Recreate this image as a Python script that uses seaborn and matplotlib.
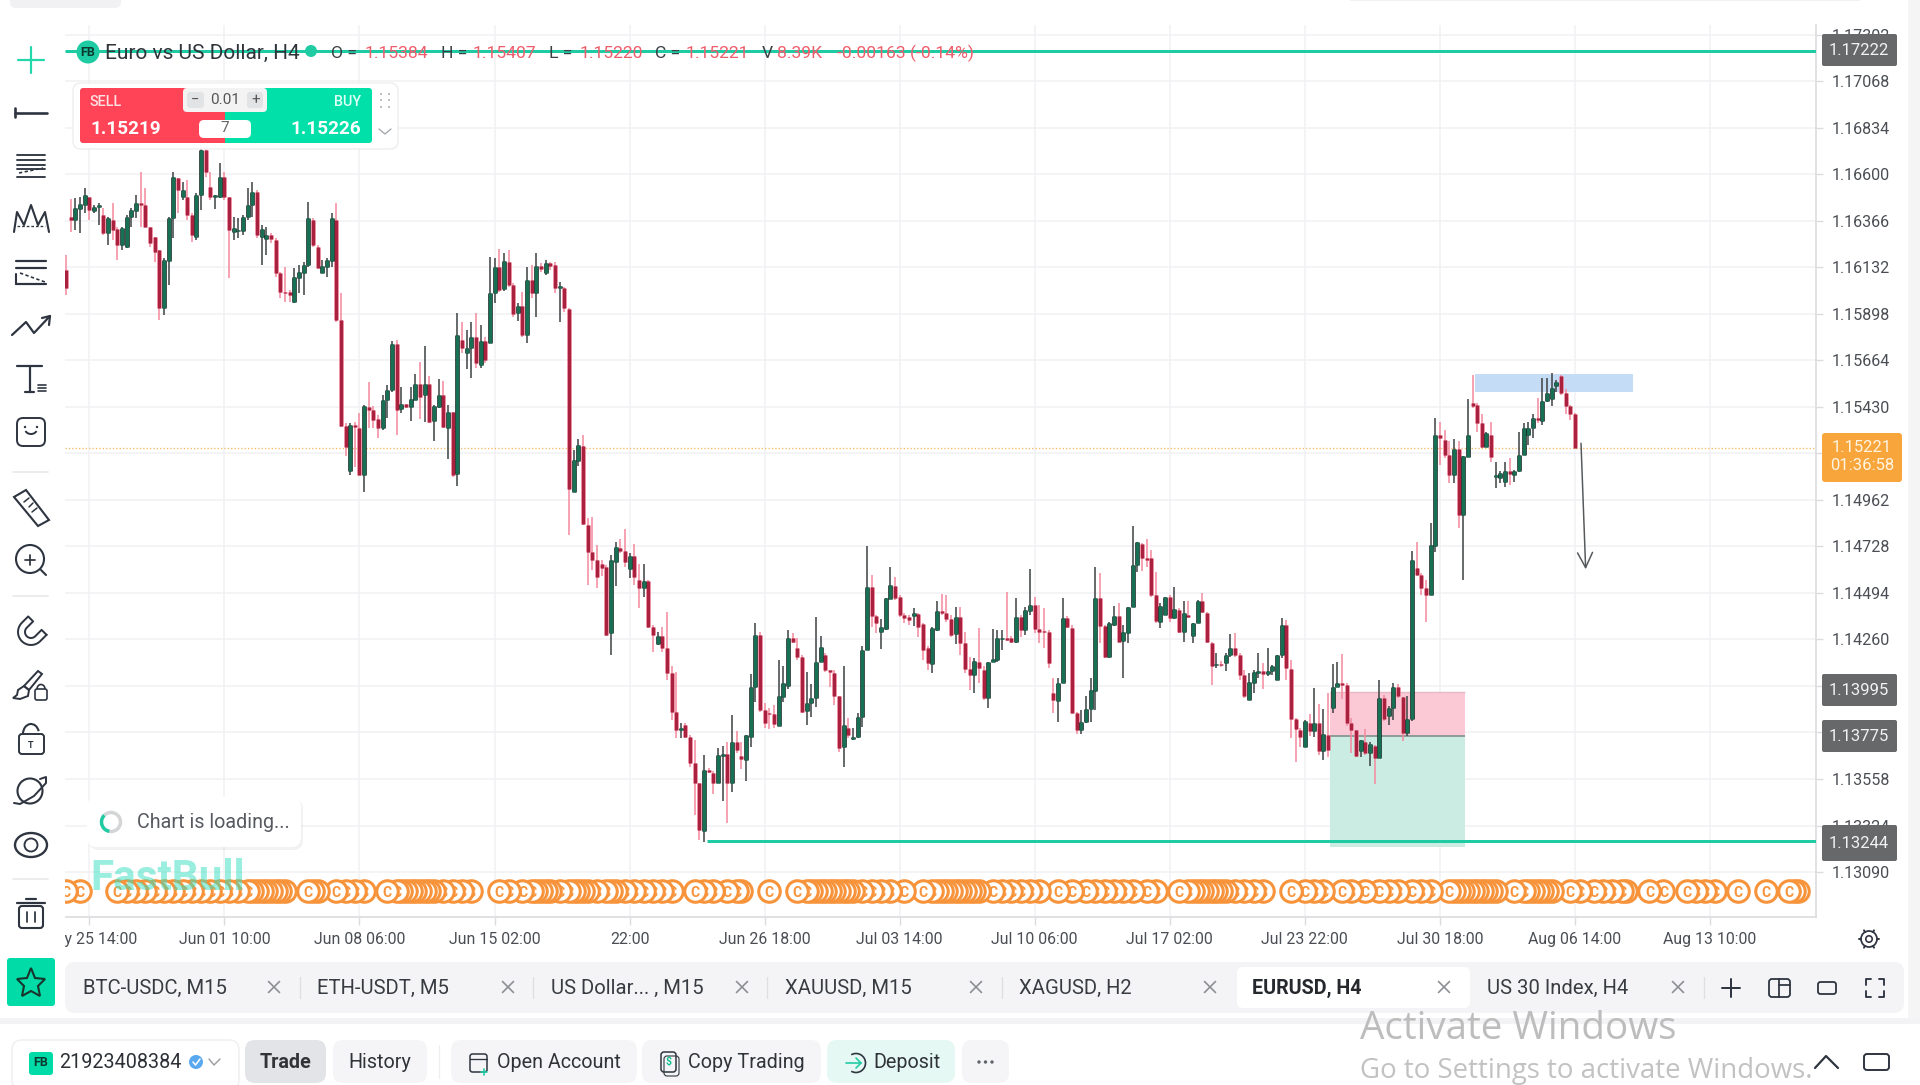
import numpy as np
import pandas as pd
import seaborn as sns
import matplotlib
matplotlib.use("Agg")
import matplotlib.pyplot as plt
from matplotlib.patches import FancyBboxPatch, Circle, Rectangle, Arc, Polygon

# prices, in points (1.15221 -> 115221)
opens = [
    116119,116387,116370,116424,116446,116488,116417,116437,116395,116303,
    116370,116323,116244,116233,116384,116417,116454,116446,116333,116286,
    116219,115926,116166,116379,116580,116488,116488,116395,116286,116496,
    116722,116538,116488,116488,116588,116488,116312,116315,116317,116384,
    116446,116513,116286,116273,116295,116270,116102,116010,116010,115959,
    116077,116102,116144,116370,116236,116102,116135,116166,116370,115867,
    115334,115105,115339,115323,115088,115427,115415,115368,115323,115465,
    115515,115747,115420,115445,115428,115466,115544,115490,115544,115360,
    115427,115490,115326,115406,115091,115767,115700,115725,115780,115641,
    115763,115753,116001,116135,116021,116160,116043,115900,115939,115792,
    116068,116005,116139,116105,116152,116144,116030,116026,115921,115000,
    115160,115235,114836,114702,114660,114640,114627,114291,114652,114719,
    114707,114613,114680,114560,114518,114556,114321,114238,114275,114216,
    114090,113897,113805,113830,113771,113638,113537,113294,113604,113587,
    113537,113674,113683,113540,113746,113674,113654,113768,114020,114283,
    113906,113892,113885,113827,113970,114028,114266,114216,114174,113902,
    113939,113964,114145,114182,114107,114093,113973,113717,113813,113759,
    113771,113872,114208,114523,114378,114295,114312,114462,114530,114476,
    114384,114375,114378,114389,114338,114216,114137,114308,114405,114392,
    114362,114288,114375,114241,114110,114082,114149,114107,113964,114149,
    114157,114262,114266,114266,114249,114375,114308,114405,114434,114311,
    114305,114295,113990,113952,114043,114367,114316,113892,113805,113847,
    113909,114003,114467,114328,114171,114333,114378,114254,114291,114425,
    114635,114741,114669,114669,114484,114350,114384,114476,114367,114409,
    114295,114384,114278,114345,114451,114395,114244,114131,114137,114140,
    114182,114216,114182,114082,113956,114040,114093,114099,114085,114099,
    114057,114183,114333,114110,113859,113805,113721,113839,113797,113839,
    113701,113780,113914,114023,114043,114032,113842,113805,113701,113746,
    113691,113725,113664,113964,113876,113914,114020,113970,113788,113859,
    114618,114585,114518,114484,114730,115289,115264,115188,115088,115217,
    114887,115180,115448,115440,115348,115230,115289,115079,115071,115054,
    115105,115088,115105,115188,115289,115323,115373,115361,115462,115469,
    115536,115583,115499,115435,115395,
]
highs = [
    116194,116474,116479,116488,116533,116488,116446,116454,116429,116387,
    116454,116337,116337,116395,116429,116496,116613,116529,116337,116286,
    116219,116177,116387,116613,116580,116563,116572,116404,116504,116731,
    116731,116613,116496,116655,116613,116488,116387,116379,116395,116529,
    116563,116521,116345,116337,116303,116278,116110,116135,116018,116127,
    116144,116161,116462,116379,116244,116169,116177,116404,116454,116001,
    115348,115348,115356,115398,115440,115554,115435,115390,115490,115541,
    115759,115767,115532,115445,115532,115594,115658,115737,115583,115440,
    115569,115561,115440,115406,115904,115859,115817,115859,115901,115842,
    115783,116186,116177,116223,116202,116219,116051,115951,116010,116135,
    116144,116202,116152,116169,116161,116157,116060,116035,115926,115214,
    115267,115289,114870,114878,114736,114660,114635,114685,114752,114766,
    114814,114694,114740,114640,114640,114560,114333,114295,114325,114400,
    114127,114098,113838,113842,113780,113755,113537,113679,113612,113596,
    113713,113725,113742,113881,113797,113742,113780,114085,114345,114300,
    113939,113914,113931,114157,114124,114308,114291,114266,114182,114098,
    114036,114375,114278,114191,114107,114107,113973,114124,113864,113813,
    113889,114225,114731,114585,114384,114362,114467,114627,114576,114484,
    114392,114384,114417,114392,114341,114225,114325,114451,114489,114484,
    114384,114425,114425,114300,114174,114166,114316,114124,114149,114311,
    114308,114308,114498,114275,114467,114384,114425,114613,114476,114434,
    114417,114308,114065,114065,114467,114378,114333,113897,113906,113973,
    114065,114627,114593,114333,114350,114429,114442,114333,114425,114831,
    114752,114744,114766,114711,114601,114442,114476,114484,114526,114417,
    114451,114451,114341,114459,114496,114400,114249,114191,114150,114191,
    114286,114292,114191,114107,114090,114107,114191,114141,114216,114132,
    114183,114367,114358,114157,113864,113814,113855,113886,114018,113936,
    113909,113993,114137,114149,114188,114040,113864,113805,113755,113809,
    113742,113730,114057,113981,113926,114043,114037,113970,113976,114707,
    114752,114593,114560,114848,115373,115356,115314,115256,115267,115256,
    115183,115469,115591,115449,115395,115306,115356,115155,115105,115155,
    115172,115113,115306,115348,115356,115395,115474,115574,115574,115599,
    115566,115591,115519,115440,115401,
]
lows = [
    115993,116312,116320,116303,116404,116370,116404,116345,116295,116244,
    116270,116169,116219,116228,116337,116379,116337,116337,116236,116161,
    115867,115892,116043,116278,116404,116471,116370,116261,116270,116421,
    116588,116471,116424,116479,116471,116077,116270,116278,116295,116370,
    116387,116278,116144,116194,116253,116085,115976,115959,115959,115951,
    116001,115993,116135,116236,116127,116102,116085,116135,115859,115331,
    115185,115088,115130,115088,115000,115323,115323,115272,115314,115373,
    115507,115289,115398,115423,115360,115466,115368,115353,115351,115259,
    115423,115323,115167,115079,115032,115699,115619,115574,115624,115624,
    115650,115753,115951,116010,116015,116035,115884,115864,115780,115753,
    115976,115884,116110,116094,116119,116001,115859,115909,114786,115000,
    115133,114836,114534,114610,114518,114580,114275,114182,114530,114694,
    114627,114568,114535,114417,114476,114316,114199,114233,114199,114057,
    113855,113763,113763,113763,113620,113378,113252,113243,113587,113483,
    113537,113445,113339,113495,113688,113607,113549,113721,113943,113897,
    113813,113808,113813,113827,113947,114010,114241,114157,113889,113830,
    113869,113919,114145,114098,114023,113931,113696,113620,113763,113755,
    113763,113822,114208,114325,114291,114211,114308,114462,114458,114375,
    114341,114333,114328,114274,114157,114107,114090,114305,114384,114350,
    114274,114238,114182,114093,114006,113989,114040,113956,113917,114149,
    114149,114208,114250,114241,114244,114271,114283,114384,114291,114241,
    114216,114115,113889,113847,114040,114316,113889,113785,113785,113842,
    113847,113906,114244,114166,114166,114328,114249,114065,114244,114425,
    114601,114606,114627,114476,114341,114316,114384,114350,114362,114291,
    114249,114367,114244,114341,114395,114241,114032,114115,114120,114100,
    114174,114174,114057,113964,113956,113989,114065,114010,114074,114082,
    114057,114166,114057,113763,113641,113718,113721,113772,113768,113679,
    113654,113671,113889,114020,113960,113825,113688,113671,113668,113679,
    113621,113534,113664,113852,113830,113856,113965,113747,113772,113850,
    114585,114484,114350,114484,114702,115138,115172,115046,115046,114820,
    114560,115177,115423,115306,115222,115230,115155,115021,115046,115026,
    115037,115054,115100,115188,115239,115272,115348,115340,115457,115435,
    115507,115490,115395,115365,115221,
]
closes = [
    116026,116370,116429,116451,116496,116421,116434,116446,116303,116379,
    116320,116244,116328,116387,116421,116454,116446,116337,116253,116211,
    115926,116169,116379,116585,116521,116521,116395,116295,116496,116722,
    116613,116488,116496,116588,116488,116320,116328,116320,116387,116446,
    116513,116295,116323,116295,116273,116102,116010,116001,115993,116085,
    116110,116144,116379,116244,116127,116139,116169,116379,115867,115334,
    115227,115341,115328,115088,115435,115415,115365,115323,115465,115515,
    115747,115415,115445,115428,115468,115544,115482,115544,115356,115432,
    115490,115328,115406,115088,115792,115725,115725,115780,115650,115763,
    115666,116001,116135,116018,116166,116043,115897,115939,115792,116068,
    116001,116139,116122,116152,116139,116026,116035,115926,115016,115163,
    115239,114841,114702,114660,114573,114620,114283,114660,114724,114707,
    114652,114680,114576,114518,114556,114321,114283,114278,114216,114090,
    113897,113805,113813,113771,113637,113537,113299,113604,113591,113537,
    113679,113683,113540,113746,113705,113658,113780,114020,114283,113906,
    113842,113885,113835,113973,114040,114266,114249,114174,113897,113942,
    113964,114149,114221,114107,114095,113973,113713,113830,113780,113771,
    113872,114208,114526,114378,114341,114322,114467,114535,114467,114384,
    114367,114358,114392,114325,114208,114140,114316,114405,114392,114362,
    114283,114375,114241,114110,114082,114152,114115,113964,114149,114160,
    114266,114266,114258,114249,114375,114308,114409,114434,114311,114300,
    114295,114144,113956,114043,114367,114325,113892,113805,113847,113909,
    114006,114467,114328,114174,114341,114378,114249,114295,114425,114635,
    114749,114669,114660,114484,114355,114429,114476,114367,114412,114300,
    114392,114375,114341,114451,114400,114249,114124,114137,114130,114182,
    114216,114182,114082,113973,114045,114095,114103,114085,114099,114124,
    114183,114333,114115,113859,113809,113768,113852,113797,113839,113701,
    113785,113705,114023,114043,114032,113842,113805,113674,113752,113688,
    113735,113664,113964,113859,113914,114020,113973,113788,113859,114660,
    114585,114518,114484,114736,115289,115272,115188,115088,115217,114887,
    115183,115289,115432,115348,115230,115297,115177,115083,115096,115108,
    115093,115105,115188,115323,115323,115373,115365,115462,115499,115524,
    115557,115499,115435,115395,115221,
]

# bars that carry a "C" tag in the row under the candles
c_events = [
    0,3,11,13,15,17,19,21,23,25,27,29,31,33,35,37,39,40,41,42,43,44,45,46,47,52,53,54,58,60,62,64,
    69,71,72,73,74,75,76,77,78,79,81,83,85,87,93,95,98,100,101,102,103,104,106,108,109,110,111,112,114,116,
    117,118,120,122,124,126,128,130,135,137,139,142,144,145,151,157,159,160,161,162,163,164,165,166,167,168,
    169,171,173,175,177,180,184,186,187,188,189,190,191,192,193,194,195,196,199,201,203,205,207,209,213,216,
    219,221,223,225,227,229,232,234,239,241,242,243,244,245,246,247,248,249,251,253,255,257,263,266,268,270,
    274,276,279,282,284,286,289,291,293,297,298,299,300,301,302,303,304,305,306,307,311,313,314,315,316,317,
    318,319,323,325,328,330,332,334,335,340,343,348,350,352,354,359,365,370,371,372,
]

y_ticks = [1.17302,1.17068,1.16834,1.16600,1.16366,1.16132,1.15898,1.15664,1.15430,1.15196,
           1.14962,1.14728,1.14494,1.14260,1.14026,1.13792,1.13558,1.13324,1.13090]
y_tick_labels = ["1.17302","1.17068","1.16834","1.16600","1.16366","1.16132","1.15898","1.15664","1.15430","",
                 "1.14962","1.14728","1.14494","1.14260","","","1.13558","1.13324","1.13090"]
x_ticks = [5,34,63,92,121,150,179,208,237,266,295,324,353]
x_tick_labels = ["May 25 14:00","Jun 01 10:00","Jun 08 06:00","Jun 15 02:00","22:00","Jun 26 18:00",
                 "Jul 03 14:00","Jul 10 06:00","Jul 17 02:00","Jul 23 22:00","Jul 30 18:00",
                 "Aug 06 14:00","Aug 13 10:00"]

last_price = 1.15221
top_line = 1.17222
low_line = 1.13244
tp_price = 1.13995
entry_price = 1.13775
stop_price = 1.13217
c_row = 1.12992

W, H = 1920, 1085
TEAL = "#1fcba3"
INK = "#2e3540"
ORANGE = "#f7933a"
PX = 0.72

sns.set_theme(style="whitegrid", rc={"axes.edgecolor": "#dcdcdf", "grid.color": "#f1f1f4",
                                     "lines.solid_capstyle": "butt"})
plt.rcParams["font.family"] = ["Roboto", "DejaVu Sans"]

fig = plt.figure(figsize=(W / 100, H / 100), dpi=100, facecolor="white")
ax = fig.add_axes([65 / W, 1 - 917 / H, (1816 - 65) / W, (917 - 25) / H])

df = pd.DataFrame({"bar": np.arange(len(closes)), "open": opens, "high": highs, "low": lows, "close": closes})
for col in ["open", "high", "low", "close"]:
    df[col] = df[col] / 1e5
df["side"] = np.where(df["close"] >= df["open"], "up", "down")
df["bot"] = df[["open", "close"]].min(axis=1)
df["top"] = np.maximum(df[["open", "close"]].max(axis=1), df["bot"] + 0.00007)

wicks = df.melt(id_vars=["bar", "side"], value_vars=["low", "high"], value_name="price")
bodies = df.melt(id_vars=["bar", "side"], value_vars=["bot", "top"], value_name="price")

# position box and the blue zone sit under the candles
ax.add_patch(Rectangle((271.3, entry_price), 29.1, tp_price - entry_price, color="#fbc9d6", lw=0, zorder=1))
ax.add_patch(Rectangle((271.3, stop_price), 29.1, entry_price - stop_price, color="#cbece3", lw=0, zorder=1))
ax.plot([271.3, 300.4], [entry_price, entry_price], color="#8f9a98", lw=1.4, zorder=1.5)
ax.plot([271.3, 300.4], [tp_price, tp_price], color="#e7b9c6", lw=1.0, zorder=1.5)
ax.add_patch(Rectangle((302.5, 1.15504), 34, 0.00092, color="#c5dcf7", lw=0, zorder=1))

line_kws = dict(x="bar", y="price", units="bar", hue="side", estimator=None, sort=False,
                errorbar=None, legend=False, ax=ax)
sns.lineplot(data=wicks, palette={"up": "#45494a", "down": "#f58da1"}, lw=1.6 * PX, zorder=3, **line_kws)
sns.lineplot(data=bodies, palette={"up": "#0f2a22", "down": "#e8788e"}, lw=4.6 * PX, zorder=4, **line_kws)
sns.lineplot(data=bodies, palette={"up": "#176f54", "down": "#a8213f"}, lw=3 * PX, zorder=5, **line_kws)

ax.axhline(last_price, color="#f8b765", lw=1.3 * PX, ls=(0, (1, 1.6)), zorder=2)
ax.axhline(top_line, color=TEAL, lw=3 * PX, zorder=6)
ax.plot([137.6, 376], [low_line, low_line], color=TEAL, lw=3 * PX, zorder=6)
ax.annotate("", xy=(326.3, 1.14613), xytext=(325.3, 1.15247), zorder=6,
            arrowprops=dict(arrowstyle="->,head_width=0.45,head_length=0.9", color="#55595c", lw=1.5 * PX,
                            shrinkA=0, shrinkB=0))

# later tags sit under earlier ones, so go from right to left
for z, bar in enumerate(sorted(c_events, reverse=True)):
    sns.scatterplot(x=[bar], y=[c_row], s=240, color="white", edgecolor=ORANGE, linewidth=2.2,
                    legend=False, ax=ax, zorder=7 + z * 0.01)
    ax.text(bar, c_row, "C", color=ORANGE, fontsize=10, fontweight="bold", ha="center", va="center_baseline",
            zorder=7.005 + z * 0.01, clip_on=True)

ax.set_xlim(-0.236, 375.76)
ax.set_ylim(1.128637, 1.173512)
ax.set_xticks(x_ticks)
ax.set_xticklabels(x_tick_labels)
ax.set_yticks(y_ticks)
ax.set_yticklabels(y_tick_labels)
ax.set_xlabel("")
ax.set_ylabel("")
ax.grid(True, color="#f1f1f4", lw=1.5 * PX)
ax.set_axisbelow(True)
ax.yaxis.tick_right()
ax.tick_params(axis="y", right=True, left=False, length=5, width=1, color="#dcdcdf", pad=6,
               labelsize=11.6, labelcolor="#4a4e54")
ax.tick_params(axis="x", bottom=True, length=5.5, width=1, color="#dcdcdf", pad=5,
               labelsize=11.4, labelcolor="#4a4e54")
for side in ["top", "left"]:
    ax.spines[side].set_visible(False)
for side in ["right", "bottom"]:
    ax.spines[side].set_color("#dcdcdf")
    ax.spines[side].set_linewidth(1.2)

# everything around the chart goes on a full figure pixel layer
ui = fig.add_axes([0, 0, 1, 1], zorder=10)
ui.set_xlim(0, W)
ui.set_ylim(H, 0)
ui.axis("off")
ui.patch.set_alpha(0)


def box(x0, y0, x1, y1, fc, r=0, ec="none", lw=0, alpha=None, z=1):
    style = f"round,pad=0,rounding_size={r}" if r else "square,pad=0"
    ui.add_patch(FancyBboxPatch((x0, y0), x1 - x0, y1 - y0, boxstyle=style, fc=fc, ec=ec, lw=lw, alpha=alpha, zorder=z))


def label(x, y, s, size=14.6, color=INK, ha="left", weight="normal", z=5, **kw):
    ui.text(x, y, s, fontsize=size, color=color, ha=ha, va="center", fontweight=weight, zorder=z, **kw)


def stroke(xs, ys, color=INK, lw=1.9, z=5, **kw):
    ui.plot(xs, ys, color=color, lw=lw * PX * 1.1, zorder=z, solid_capstyle="round", **kw)


def ring(x, y, r, color=INK, lw=1.9, fc="none", z=5):
    ui.add_patch(Circle((x, y), r, fc=fc, ec=color, lw=lw * PX * 1.1, zorder=z))


def cross(x, y, r=5.5, color="#8b8e93"):
    stroke([x - r, x + r], [y - r, y + r], color=color, lw=1.5)
    stroke([x - r, x + r], [y + r, y - r], color=color, lw=1.5)


# page background pieces
box(0, 0, 65, 955, "white", z=0.5)
box(1908, 0, W, 1020, "#f5f5f6", z=0.5)
box(0, 1018, W, 1024, "#f3f3f5", z=0.5)
box(10, -6, 121, 8, "#f1f1f3", r=6)
box(1350, -4, 1860, 1, "#f1f1f3", r=1)

# header line
ring(88, 52, 11.5, TEAL, lw=0, fc=TEAL, z=6)
label(88, 52.5, "FB", size=9, color="#0b3b30", ha="center", weight="bold", z=7)
label(105, 53, "Euro vs US Dollar, H4", size=15, color="#2f343a", z=7)
ring(311, 51, 6, TEAL, lw=0, fc=TEAL, z=6)
for x, s, c in [(331, "O =", "#3c4045"), (365, "1.15384", "#ee5d6c"), (441, "H =", "#3c4045"), (473, "1.15407", "#ee5d6c"),
                (549, "L =", "#3c4045"), (580, "1.15220", "#ee5d6c"), (655, "C =", "#3c4045"), (686, "1.15221", "#ee5d6c"),
                (762, "V", "#3c4045"), (777, "8.39K", "#ee5d6c"), (837, "-0.00163 (-0.14%)", "#ee5d6c")]:
    label(x, 53.5, s, size=12.6, color=c, z=7)

# sell / buy panel
box(73, 83, 398, 149, "white", r=8, ec="#eeeeef", lw=1)
box(80, 88, 235, 143, "#ff4458", r=3, z=2)
box(225, 88, 372, 143, "#00e0a8", r=3, z=2)
box(225, 88, 235, 143, "#00e0a8", z=2.1)
box(183, 88, 267, 112, "#f3f3f4", r=4, z=3)
box(187, 92, 204, 108, "#e2e3e5", r=3, z=3.1)
box(247, 92, 263, 108, "#e2e3e5", r=3, z=3.1)
label(195, 100, "−", size=10.5, color="#555", ha="center")
label(256, 100, "+", size=11, color="#555", ha="center")
label(225, 100, "0.01", size=11, color="#555", ha="center")
box(199, 120, 251, 138, "white", r=5, z=3)
label(225, 128, "7", size=11, color="#666", ha="center")
label(90, 102, "SELL", size=10.4, color="#ffdfe2", weight="medium")
label(361, 102, "BUY", size=10.4, color="#e0fff6", ha="right", weight="medium")
label(90, 128.5, "1.15219", size=13.6, color="white", weight="bold")
label(361, 128.5, "1.15226", size=13.6, color="white", ha="right", weight="bold")
for hx in (381, 389):
    for hy in (94, 100, 107):
        ui.add_patch(Circle((hx, hy), 0.9, fc="#9a9da1", ec="none", zorder=5))
stroke([379, 385, 391], [129, 134, 129], color="#a5a8ac", lw=1.2)

# right scale badges
box(1822, 433, 1902, 482, "#f8a63c", r=3, z=3)
label(1862, 447.5, "1.15221", size=12, color="#fff4e2", ha="center")
label(1862, 465.5, "01:36:58", size=12, color="#fff4e2", ha="center")
for y0, y1, s in [(34, 66, "1.17222"), (674, 706, "1.13995"), (720, 752, "1.13775"), (825, 861, "1.13244")]:
    box(1822, y0, 1897, y1, "#66686a", r=2, z=3)
    label(1859, (y0 + y1) / 2 + 0.5, s, size=12, color="#f2f2f2", ha="center")

# toast and watermark
box(89, 799, 303, 850, "#000000", r=10, alpha=0.05, z=1.5)
box(87, 797, 301, 847, "white", r=10, z=2)
ring(111, 822, 9.5, "#d4d5d6", lw=3.2)
ui.add_patch(Arc((111, 822), 19, 19, theta1=100, theta2=225, color=TEAL, lw=2.4, zorder=6))
label(137, 823, "Chart is loading...", size=14.2, color="#565a60")
label(90, 879, "FastBull", size=30.4, color="#34dfc0", weight="bold", alpha=0.5)

# toolbar icons
stroke([18, 44], [60, 60], color="#22d8ab", lw=2)
stroke([31, 31], [47, 73], color="#22d8ab", lw=2)
stroke([15, 47], [113, 113], lw=2.4)
stroke([15, 15], [108, 117], lw=2.4)
for y in (155, 160, 165, 169, 177):
    stroke([17, 45], [y, y], lw=1.7)
stroke([19, 43], [173, 168], lw=1.5, ls=(0, (2, 1.5)))
stroke([14, 17, 24, 31, 38, 45, 49], [232, 212, 225, 205, 225, 212, 232], lw=1.9)
stroke([17, 45], [226, 226], lw=1.2, ls=(0, (2, 1.5)))
for y in (261, 268, 284):
    stroke([16, 46], [y, y], lw=2)
stroke([16, 16], [274, 284], lw=1.9)
stroke([20, 45], [273, 282], lw=1.5, ls=(0, (2, 1.5)))
stroke([12, 26, 34, 50], [335, 322, 333, 316], lw=2)
stroke([42, 50, 49], [318, 316, 325], lw=2)
stroke([17, 42], [366, 366], lw=2)
stroke([30, 30], [366, 392], lw=2)
stroke([25, 34], [392, 392], lw=2)
for y in (385, 388, 391):
    stroke([38, 46], [y, y], lw=1.5)
box(17, 418, 45, 446, "none", r=6, ec=INK, lw=1.4, z=5)
ui.add_patch(Arc((31, 429), 12, 10, theta1=20, theta2=160, color=INK, lw=1.4, zorder=5))
ui.add_patch(Circle((25, 427), 1.2, fc=INK, ec="none", zorder=5))
ui.add_patch(Circle((37, 427), 1.2, fc=INK, ec="none", zorder=5))
ui.add_patch(Polygon([[14, 497], [26, 490], [49, 520], [38, 526]], closed=True, fc="none", ec=INK, lw=1.5, zorder=5))
for p, q in [((29, 498), (24, 502)), ((33, 503), (29, 507)), ((37, 508), (32, 512))]:
    stroke([p[0], q[0]], [p[1], q[1]], lw=1.4)
ring(30, 559, 14)
stroke([25, 35], [560, 560], lw=1.6)
stroke([30, 30], [555, 565], lw=1.6)
stroke([41, 46], [570, 575], lw=1.9)
# magnet: a U turned so it opens to the upper right
t = np.radians(np.linspace(0, 180, 20))
u_x = np.r_[13, 13 * np.cos(t), -13, -6, -6 * np.cos(t), 6, 13]
u_y = np.r_[-9, 13 * np.sin(t), -9, -9, 6 * np.sin(t), -9, -9]
rot = np.radians(45)
stroke(31 + u_x * np.cos(rot) - u_y * np.sin(rot), 632 + u_x * np.sin(rot) + u_y * np.cos(rot), lw=1.8)
ui.add_patch(Polygon([[38, 671], [42, 674], [29, 690], [24, 686]], closed=True, fc="none", ec=INK, lw=1.4, zorder=5))
ui.add_patch(Polygon([[24, 686], [29, 690], [28, 696], [20, 699], [13, 698], [17, 695], [18, 690]], closed=True,
                     fc="none", ec=INK, lw=1.4, zorder=5))
box(35, 689, 47, 700, "none", r=2, ec=INK, lw=1.2, z=5)
ui.add_patch(Arc((41, 689), 8, 9, theta1=180, theta2=360, color=INK, lw=1.2, zorder=5))
box(19, 734, 44, 754, "none", r=3, ec=INK, lw=1.4, z=5)
ui.add_patch(Arc((31, 734), 16, 20, theta1=180, theta2=340, color=INK, lw=1.5, zorder=5))
label(31, 745, "T", size=6.5, ha="center", weight="bold")
ring(30, 791, 12.5)
stroke([14, 20, 34, 46, 46, 40], [803, 804, 796, 783, 777, 779], lw=1.8)
ui.add_patch(Arc((31, 845), 32, 24, color=INK, lw=1.7, zorder=5))
ring(31, 845, 6.5, lw=1.7)
for y in (472, 596, 879):
    stroke([13, 48], [y, y], color="#e8e8ea", lw=1.5)
box(19, 906, 43, 928, "none", r=3, ec=INK, lw=1.5, z=5)
stroke([17, 45], [903, 903], lw=2)
stroke([26, 36], [899, 899], lw=2)
stroke([27, 27], [912, 922], lw=1.6)
stroke([35, 35], [912, 922], lw=1.6)
box(7, 958, 55, 1006, "#00dba8", r=3, z=2)
star = [[31, 968], [35, 978], [45, 979], [38, 986], [40, 996], [31, 991], [22, 996], [24, 986], [17, 979], [27, 978]]
ui.add_patch(Polygon(star, closed=True, fc="none", ec="#18352c", lw=1.5, zorder=5))

# tab strip
box(65, 962, 1904, 1013, "#f4f4f6", r=10, z=1)
box(1237, 967, 1470, 1008, "white", r=6, z=2)
for x, s, xc in [(83, "BTC-USDC, M15", 274), (317, "ETH-USDT, M5", 508), (551, "US Dollar... , M15", 742),
                 (785, "XAUUSD, M15", 976), (1019, "XAGUSD, H2", 1210), (1487, "US 30 Index, H4", 1678)]:
    label(x, 988.5, s, color="#383c42")
    cross(xc, 987)
label(1252, 988.5, "EURUSD, H4", color="#25292e", weight="bold", size=14.2)
cross(1444, 987)
for x in (300, 533, 767, 1002, 1704):
    stroke([x, x], [977, 998], color="#dfdfe2", lw=1.2)
stroke([1722, 1740], [988, 988], lw=1.8)
stroke([1731, 1731], [979, 997], lw=1.8)
box(1769, 979, 1790, 997, "none", r=3, ec=INK, lw=1.3, z=5)
stroke([1779, 1779], [979, 997], lw=1.6)
stroke([1779, 1790], [985, 985], lw=1.6)
box(1818, 982, 1836, 994, "none", r=2.5, ec=INK, lw=1.3, z=5)
for sx, sy in [(-1, -1), (1, -1), (-1, 1), (1, 1)]:
    stroke([1875 + sx * 9, 1875 + sx * 9, 1875 + sx * 4], [988 + sy * 3, 988 + sy * 9, 988 + sy * 9], lw=1.7)
ring(1869, 939, 3.2, lw=1.5)
ring(1869, 939, 8, lw=1.6)
for a in np.deg2rad(np.arange(0, 360, 60)):
    stroke([1869 + 8 * np.cos(a), 1869 + 10 * np.cos(a)], [939 + 8 * np.sin(a), 939 + 10 * np.sin(a)], lw=1.8)

# bottom bar
box(12, 1040, 239, 1090, "white", r=10, ec="#efeff1", lw=1, z=1)
box(29, 1052, 53, 1075, "#00dba8", r=3, z=2)
label(41, 1063, "FB", size=9, color="#0b3b30", ha="center", weight="bold")
label(59, 1062, "21923408384", size=14.2, color="#2d3137")
ring(196, 1062, 7, "#5aa9f0", lw=0, fc="#5aa9f0")
stroke([193, 195.5, 200], [1062, 1065, 1059], color="white", lw=1.4, z=6)
stroke([209, 214, 220], [1059, 1065, 1059], color="#9a9da1", lw=1.3)
box(245, 1040, 326, 1083, "#e3e4e8", r=10, z=1)
label(286, 1062, "Trade", size=14.2, ha="center", weight="bold", color="#303439")
box(333, 1040, 427, 1083, "#f5f5f7", r=10, z=1)
label(380, 1062, "History", size=14.2, ha="center", color="#303439")
stroke([439, 439], [1045, 1078], color="#efeff1", lw=1.2)
box(451, 1040, 637, 1083, "#f5f5f7", r=10, z=1)
box(470, 1054, 487, 1072, "none", r=2.5, ec=INK, lw=1.1, z=5)
stroke([470, 487], [1059, 1059], lw=1.2)
stroke([481, 487], [1072, 1072], color=TEAL, lw=1.5, z=6)
stroke([484, 484], [1069, 1075], color=TEAL, lw=1.5, z=6)
label(497, 1062, "Open Account", size=14.2, color="#303439")
box(642, 1040, 821, 1083, "#f5f5f7", r=10, z=1)
box(661, 1052, 676, 1072, "none", r=3, ec=INK, lw=1.1, z=5)
box(664, 1056, 679, 1076, "none", r=3, ec=INK, lw=0.8, z=5)
label(668.5, 1062, "$", size=7.5, color="#10c090", ha="center", weight="bold", parse_math=False)
label(688, 1062, "Copy Trading", size=14.2, color="#303439")
box(827, 1040, 955, 1083, "#e6f8f3", r=10, z=1)
ui.add_patch(Arc((856, 1063), 19, 19, theta1=-120, theta2=120, color=INK, lw=1.2, zorder=5))
stroke([846, 861], [1063, 1063], color=TEAL, lw=1.5, z=6)
stroke([856, 861, 856], [1058, 1063, 1068], color=TEAL, lw=1.5, z=6)
label(873, 1062, "Deposit", size=14.2, color="#303439")
box(962, 1040, 1009, 1083, "#f5f5f7", r=10, z=1)
for x in (979, 985.5, 992):
    ui.add_patch(Circle((x, 1062), 1.7, fc="#61656b", ec="none", zorder=5))

label(1360, 1029, "Activate Windows", size=27.8, color="#bdbdbd", family=["Open Sans", "DejaVu Sans"], z=8)
label(1360, 1071, "Go to Settings to activate Windows.", size=19.9, color="#c2c2c2",
      family=["Open Sans", "DejaVu Sans"], z=8)
stroke([1815, 1826, 1838], [1068, 1056, 1068], lw=2, z=9)
box(1864, 1054, 1889, 1070, "none", r=3, ec=INK, lw=1.4, z=9)

fig.savefig("out.png", dpi=100)
